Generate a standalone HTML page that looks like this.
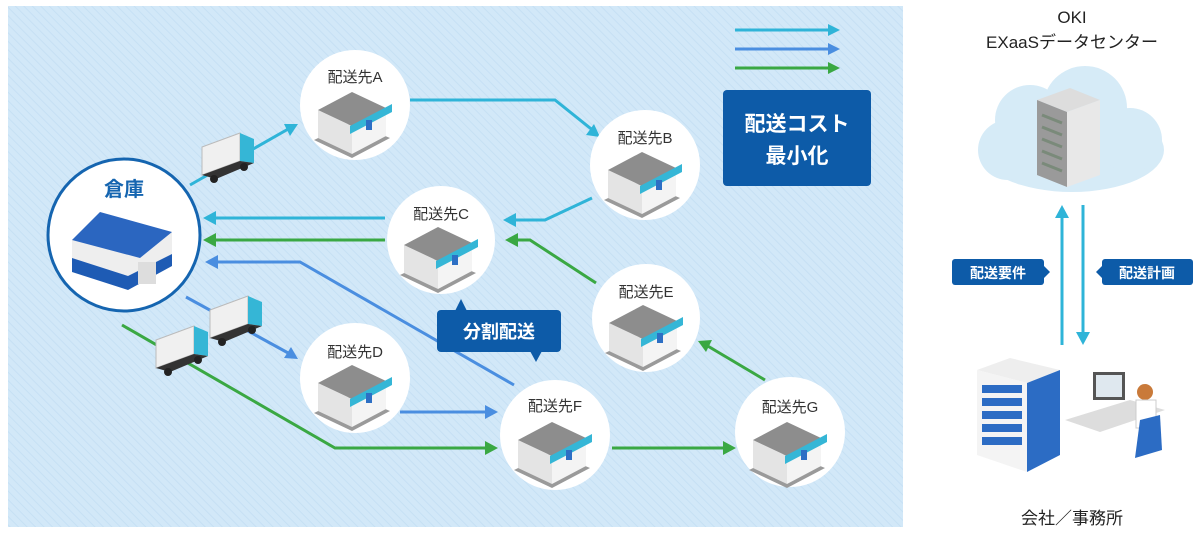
<!DOCTYPE html>
<html><head><meta charset="utf-8"><style>
html,body{margin:0;padding:0;background:#fff;}
svg{display:block;font-family:"Liberation Sans","Noto Sans CJK JP",sans-serif;}
</style></head><body>
<svg width="1200" height="534" viewBox="0 0 1200 534" xmlns="http://www.w3.org/2000/svg">
<defs>
<pattern id="hatch" width="6" height="6" patternUnits="userSpaceOnUse" patternTransform="rotate(-45)">
<rect width="6" height="6" fill="#d2e8f8"/><line x1="0" y1="0" x2="0" y2="6" stroke="#c6e0f4" stroke-width="2"/>
</pattern>
<g id="shop">
<polygon points="-38,20 0,38 38,18 0,2" fill="#9a9a9a"/>
<polygon points="-34,-10 -34,18 0,34 0,6" fill="#e4e4e4"/>
<polygon points="0,6 0,34 34,16 34,-12" fill="#f4f4f4"/>
<polygon points="-34,-10 0,6 34,-12 0,-28" fill="#8d8d8d"/>
<polygon points="-2,6 40,-16 40,-8 -2,14" fill="#35b6d6"/>
<rect x="14" y="0" width="6" height="10" fill="#2d6fc4"/>
</g>
<g id="truck">
<polygon points="-30,-8 8,-22 8,6 -30,20" fill="#f0f0f0" stroke="#bbb" stroke-width="1"/>
<polygon points="8,-22 22,-16 22,8 8,6" fill="#35b6d6"/>
<polygon points="-30,20 8,6 22,8 -16,24" fill="#333"/>
<circle cx="-18" cy="24" r="4" fill="#222"/><circle cx="12" cy="12" r="4" fill="#222"/>
</g>
</defs>

<rect x="8" y="6" width="895" height="521" fill="url(#hatch)"/>

<!-- connectors -->
<g fill="none" stroke-width="3">
<!-- cyan -->
<polyline points="190,185 290,128" stroke="#2fb4d8"/>
<polyline points="410,100 555,100 595,132" stroke="#2fb4d8"/>
<polyline points="592,198 545,220 510,220" stroke="#2fb4d8"/>
<line x1="385" y1="218" x2="210" y2="218" stroke="#2fb4d8"/>
<!-- green -->
<line x1="385" y1="240" x2="210" y2="240" stroke="#3aa843"/>
<polyline points="596,283 530,240 512,240" stroke="#3aa843"/>
<line x1="765" y1="380" x2="706" y2="345" stroke="#3aa843"/>
<line x1="612" y1="448" x2="728" y2="448" stroke="#3aa843"/>
<polyline points="122,325 335,448 490,448" stroke="#3aa843"/>
<!-- blue -->
<polyline points="514,385 300,262 212,262" stroke="#4a8ee0"/>
<line x1="186" y1="297" x2="290" y2="354" stroke="#4a8ee0"/>
<line x1="400" y1="412" x2="490" y2="412" stroke="#4a8ee0"/>
<!-- legend -->
<line x1="735" y1="30" x2="832" y2="30" stroke="#2fb4d8"/>
<line x1="735" y1="49" x2="832" y2="49" stroke="#4a8ee0"/>
<line x1="735" y1="68" x2="832" y2="68" stroke="#3aa843"/>
</g>
<g>
<polygon points="298,124 284,124 290,136" fill="#2fb4d8"/>
<polygon points="600,137 586,135 594,124" fill="#2fb4d8"/>
<polygon points="503,220 516,213 516,227" fill="#2fb4d8"/>
<polygon points="203,218 216,211 216,225" fill="#2fb4d8"/>
<polygon points="203,240 216,233 216,247" fill="#3aa843"/>
<polygon points="505,240 518,233 518,247" fill="#3aa843"/>
<polygon points="698,341 712,340 706,352" fill="#3aa843"/>
<polygon points="736,448 723,441 723,455" fill="#3aa843"/>
<polygon points="498,448 485,441 485,455" fill="#3aa843"/>
<polygon points="205,262 218,255 218,269" fill="#4a8ee0"/>
<polygon points="298,359 284,358 291,347" fill="#4a8ee0"/>
<polygon points="498,412 485,405 485,419" fill="#4a8ee0"/>
<polygon points="840,30 828,24 828,36" fill="#2fb4d8"/>
<polygon points="840,49 828,43 828,55" fill="#4a8ee0"/>
<polygon points="840,68 828,62 828,74" fill="#3aa843"/>
</g>

<!-- trucks -->
<use href="#truck" x="232" y="155"/>
<use href="#truck" x="240" y="318"/>
<use href="#truck" x="186" y="348"/>

<!-- warehouse -->
<circle cx="124" cy="235" r="76" fill="#fff" stroke="#1565b0" stroke-width="3"/>
<text x="124" y="196" font-size="20" font-weight="bold" fill="#1565b0" text-anchor="middle">倉庫</text>
<polygon points="72,240 100,215 172,232 172,262 128,290 72,270" fill="#eee"/>
<polygon points="72,240 100,212 172,232 140,258" fill="#2b66c0"/>
<polygon points="72,258 128,276 128,290 72,272" fill="#1e5bb4"/>
<polygon points="128,276 172,254 172,266 128,290" fill="#1e5bb4"/>
<rect x="138" y="262" width="18" height="22" fill="#ddd"/>

<!-- destinations -->
<g fill="#fff">
<circle cx="355" cy="105" r="55"/>
<circle cx="645" cy="165" r="55"/>
<circle cx="441" cy="240" r="54"/>
<circle cx="355" cy="378" r="55"/>
<circle cx="646" cy="318" r="54"/>
<circle cx="555" cy="435" r="55"/>
<circle cx="790" cy="432" r="55"/>
</g>
<g font-size="15" fill="#333" text-anchor="middle">
<text x="355" y="82">配送先A</text>
<text x="645" y="143">配送先B</text>
<text x="441" y="219">配送先C</text>
<text x="355" y="357">配送先D</text>
<text x="646" y="297">配送先E</text>
<text x="555" y="411">配送先F</text>
<text x="790" y="412">配送先G</text>
</g>
<use href="#shop" x="352" y="120"/>
<use href="#shop" x="642" y="180"/>
<use href="#shop" x="438" y="255"/>
<use href="#shop" x="352" y="393"/>
<use href="#shop" x="643" y="333"/>
<use href="#shop" x="552" y="450"/>
<use href="#shop" x="787" y="450"/>

<!-- callouts -->
<rect x="723" y="90" width="148" height="96" rx="4" fill="#0d5ba8"/>
<text x="797" y="131" font-size="21" font-weight="bold" fill="#fff" text-anchor="middle">配送コスト</text>
<text x="797" y="163" font-size="21" font-weight="bold" fill="#fff" text-anchor="middle">最小化</text>
<rect x="437" y="310" width="124" height="42" rx="4" fill="#0d5ba8"/>
<polygon points="455,311 461,299 467,311" fill="#0d5ba8"/>
<polygon points="530,351 536,362 542,351" fill="#0d5ba8"/>
<text x="499" y="338" font-size="18" font-weight="bold" fill="#fff" text-anchor="middle">分割配送</text>

<!-- right side -->
<text x="1072" y="23" font-size="17" fill="#222" text-anchor="middle">OKI</text>
<text x="1072" y="48" font-size="17" fill="#222" text-anchor="middle">EXaaSデータセンター</text>
<g fill="#d6ebf7">
<ellipse cx="1072" cy="150" rx="92" ry="42"/>
<circle cx="1030" cy="120" r="35"/><circle cx="1085" cy="108" r="42"/><circle cx="1130" cy="140" r="32"/><circle cx="1008" cy="150" r="30"/>
</g>
<polygon points="1037,100 1070,88 1100,100 1067,112" fill="#ddd"/>
<polygon points="1037,100 1067,112 1067,187 1037,175" fill="#9a9a9a"/>
<polygon points="1067,112 1100,100 1100,175 1067,187" fill="#e8e8e8"/>
<g stroke="#7a8a7a" stroke-width="3"><line x1="1042" y1="115" x2="1062" y2="123"/><line x1="1042" y1="127" x2="1062" y2="135"/><line x1="1042" y1="139" x2="1062" y2="147"/><line x1="1042" y1="151" x2="1062" y2="159"/><line x1="1042" y1="163" x2="1062" y2="171"/></g>
<line x1="1062" y1="345" x2="1062" y2="215" stroke="#2fb4d8" stroke-width="3"/>
<polygon points="1062,205 1055,218 1069,218" fill="#2fb4d8"/>
<line x1="1083" y1="205" x2="1083" y2="335" stroke="#2fb4d8" stroke-width="3"/>
<polygon points="1083,345 1076,332 1090,332" fill="#2fb4d8"/>
<rect x="952" y="259" width="92" height="26" rx="3" fill="#0d5ba8"/>
<polygon points="1043,265 1050,272 1043,279" fill="#0d5ba8"/>
<text x="998" y="278" font-size="14" font-weight="bold" fill="#fff" text-anchor="middle">配送要件</text>
<rect x="1102" y="259" width="91" height="26" rx="3" fill="#0d5ba8"/>
<polygon points="1103,265 1096,272 1103,279" fill="#0d5ba8"/>
<text x="1147" y="278" font-size="14" font-weight="bold" fill="#fff" text-anchor="middle">配送計画</text>
<!-- building -->
<polygon points="977,370 1010,358 1060,370 1027,383" fill="#eee"/>
<polygon points="977,370 1027,383 1027,472 977,455" fill="#f4f4f4"/>
<polygon points="1027,383 1060,370 1060,455 1027,472" fill="#2c6cc4"/>
<g fill="#2c6cc4"><rect x="982" y="385" width="40" height="8"/><rect x="982" y="398" width="40" height="8"/><rect x="982" y="411" width="40" height="8"/><rect x="982" y="424" width="40" height="8"/><rect x="982" y="437" width="40" height="8"/></g>
<!-- desk & person -->
<polygon points="1065,420 1130,400 1165,410 1100,432" fill="#ddd"/>
<rect x="1093" y="372" width="32" height="28" fill="#555"/><rect x="1096" y="375" width="26" height="22" fill="#dfe8ef"/>
<circle cx="1145" cy="392" r="8" fill="#c97a3a"/>
<rect x="1136" y="400" width="20" height="28" fill="#fff" stroke="#ccc"/>
<polygon points="1140,420 1160,415 1162,450 1135,458" fill="#2c6cc4"/>
<text x="1072" y="524" font-size="17" fill="#222" text-anchor="middle">会社／事務所</text>
</svg>
</body></html>
